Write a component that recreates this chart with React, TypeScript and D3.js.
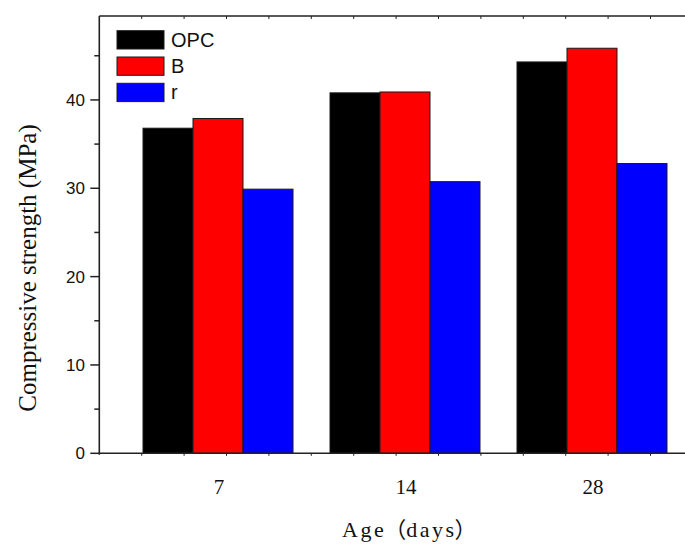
import React from "react";
import * as d3 from "d3";

// Compressive strength (MPa) by curing age for each mix
const ages = ["7", "14", "28"];
const seriesNames = ["OPC", "B", "r"];
const opcValues = [36.8, 40.8, 44.3];
const bValues = [37.9, 40.9, 45.85];
const rValues = [29.9, 30.75, 32.8];
const yTickValues = [0, 10, 20, 30, 40];
const yMinorTickValues = [5, 15, 25, 35, 45];

const seriesColors = ["#000000", "#ff0000", "#0000ff"];
const seriesValues = [opcValues, bValues, rValues];

const W = 685;
const H = 544;
const left = 99.3;
const right = 702;
const top = 16;
const bottom = 453.3;

const serif = "'Liberation Serif', 'Times New Roman', serif";
const cjk = "'Noto Sans CJK SC', sans-serif";

export default function App() {
  const y = d3.scaleLinear().domain([0, 49.5]).range([bottom, top]);
  const xGroup = d3
    .scaleBand<string>()
    .domain(ages)
    .range([124.5, 685.5])
    .paddingInner(0.1979)
    .paddingOuter(0.099);
  const xSeries = d3
    .scaleBand<string>()
    .domain(seriesNames)
    .range([0, xGroup.bandwidth()]);

  // evenly spaced frame ticks along the top and bottom edges
  const frameTick = d3.scaleLinear().domain([0, 1]).range([left, left + 42.4]);
  const frameTicks = d3.range(1, 15).map((i) => frameTick(i)).filter((v) => v < right);

  const axisColor = "#222";

  return (
    <svg
      width={W}
      height={H}
      style={{ position: "absolute", left: 0, top: 0, background: "#fff" }}
    >
      {/* bars */}
      {ages.map((age, gi) => (
        <g key={age} transform={`translate(${xGroup(age)},0)`}>
          {seriesNames.map((s, si) => {
            const v = seriesValues[si][gi];
            return (
              <rect
                key={s}
                x={xSeries(s)}
                y={y(v)}
                width={xSeries.bandwidth()}
                height={y(0) - y(v)}
                fill={seriesColors[si]}
                stroke="#1a1a1a"
                strokeWidth={1}
              />
            );
          })}
        </g>
      ))}

      {/* frame */}
      <line x1={left} x2={right} y1={top} y2={top} stroke={axisColor} strokeWidth={1.6} />
      <line x1={left} x2={right} y1={bottom} y2={bottom} stroke={axisColor} strokeWidth={1.6} />
      <line x1={left} x2={left} y1={top} y2={bottom + 1.5} stroke={axisColor} strokeWidth={1.6} />

      {frameTicks.map((t, i) => (
        <g key={i}>
          <line x1={t} x2={t} y1={top} y2={top + 3} stroke={axisColor} strokeWidth={1} />
          <line x1={t} x2={t} y1={bottom} y2={bottom + 2.5} stroke={axisColor} strokeWidth={1} />
        </g>
      ))}

      {/* y axis ticks */}
      {yTickValues.map((t) => (
        <g key={t}>
          <line x1={left - 9} x2={left} y1={y(t)} y2={y(t)} stroke={axisColor} strokeWidth={1.5} />
          <text
            x={85}
            y={y(t)}
            dy="0.36em"
            textAnchor="end"
            fontFamily="'Liberation Sans', Arial, sans-serif"
            fontSize={17}
            fill="#111"
          >
            {t}
          </text>
        </g>
      ))}
      {yMinorTickValues.map((t) => (
        <line key={t} x1={left - 5} x2={left} y1={y(t)} y2={y(t)} stroke={axisColor} strokeWidth={1.5} />
      ))}

      {/* x category labels */}
      {ages.map((age) => (
        <text
          key={age}
          x={(xGroup(age) as number) + xGroup.bandwidth() / 2 + 1}
          y={494}
          textAnchor="middle"
          fontFamily={serif}
          fontSize={21}
          fill="#111"
        >
          {age}
        </text>
      ))}

      {/* axis titles */}
      <text
        x={342}
        y={537}
        fontFamily={serif}
        fontSize={22}
        fill="#111"
      >
        <tspan letterSpacing={2.5}>Age</tspan>
        <tspan fontFamily={cjk} dx={-2}>（</tspan>
        <tspan letterSpacing={2.5}>days</tspan>
        <tspan fontFamily={cjk} dx={-2}>）</tspan>
      </text>
      <text
        transform={`translate(36,268) rotate(-90)`}
        textAnchor="middle"
        fontFamily={serif}
        fontSize={25}
        fill="#111"
      >
        Compressive strength (MPa)
      </text>

      {/* legend */}
      {seriesNames.map((s, i) => (
        <g key={s} transform={`translate(117,${30.7 + i * 26.3})`}>
          <rect width={47} height={18.3} fill={seriesColors[i]} stroke="#1a1a1a" strokeWidth={1} />
          <text
            x={54}
            y={16}
            fontFamily="'Liberation Sans', Arial, sans-serif"
            fontSize={20}
            fill="#111"
          >
            {s}
          </text>
        </g>
      ))}
    </svg>
  );
}
